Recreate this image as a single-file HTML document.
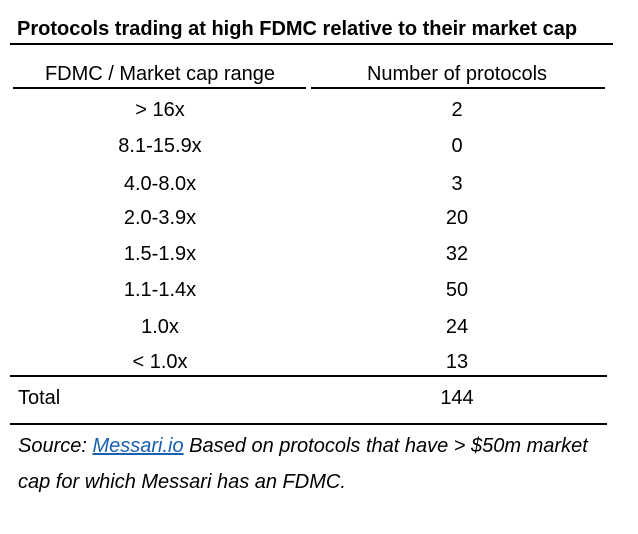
<!DOCTYPE html>
<html><head><style>
body{margin:0;width:638px;height:534px;background:#fff;position:relative;font-family:"Liberation Sans",Arial,sans-serif;color:#000;overflow:hidden}
.t{position:absolute;font-size:20px;line-height:22px;white-space:nowrap}
.c1{left:10px;width:300px;text-align:center}
.c2{left:308px;width:298px;text-align:center}
.ln{position:absolute;background:#000;height:2px}
</style></head><body>
<div class="t" style="left:17px;top:18px;font-weight:bold;font-size:20px">Protocols trading at high FDMC relative to their market cap</div>
<div class="ln" style="left:10px;width:603px;top:43px"></div>
<div class="t c1" style="top:63px">FDMC / Market cap range</div>
<div class="t c2" style="top:63px">Number of protocols</div>
<div class="ln" style="left:13px;width:293px;top:87px"></div>
<div class="ln" style="left:311px;width:294px;top:87px"></div>
<div class="t c1" style="top:99px">&gt; 16x</div><div class="t c2" style="top:99px">2</div>
<div class="t c1" style="top:135px">8.1-15.9x</div><div class="t c2" style="top:135px">0</div>
<div class="t c1" style="top:173px">4.0-8.0x</div><div class="t c2" style="top:173px">3</div>
<div class="t c1" style="top:207px">2.0-3.9x</div><div class="t c2" style="top:207px">20</div>
<div class="t c1" style="top:243px">1.5-1.9x</div><div class="t c2" style="top:243px">32</div>
<div class="t c1" style="top:279px">1.1-1.4x</div><div class="t c2" style="top:279px">50</div>
<div class="t c1" style="top:316px">1.0x</div><div class="t c2" style="top:316px">24</div>
<div class="t c1" style="top:351px">&lt; 1.0x</div><div class="t c2" style="top:351px">13</div>
<div class="ln" style="left:10px;width:597px;top:375px"></div>
<div class="t" style="left:18px;top:387px">Total</div><div class="t c2" style="top:387px">144</div>
<div class="ln" style="left:10px;width:597px;top:423px"></div>
<div class="t" style="left:18px;top:435px;font-style:italic">Source: <span style="color:#1a5fb4;text-decoration:underline">Messari.io</span> Based on protocols that have &gt; $50m market</div>
<div class="t" style="left:18px;top:471px;font-style:italic">cap for which Messari has an FDMC.</div>
</body></html>
